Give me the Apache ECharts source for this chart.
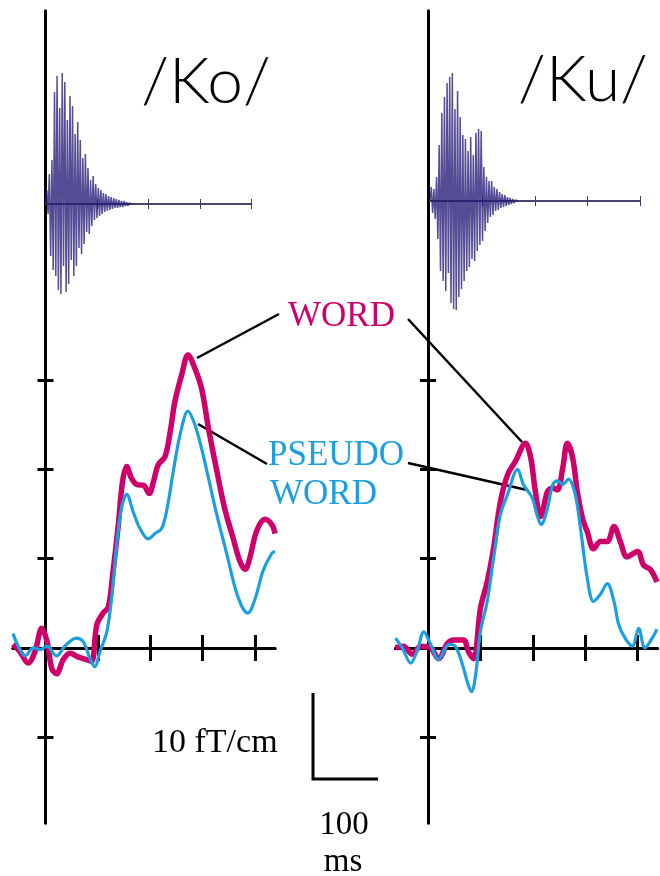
<!DOCTYPE html>
<html>
<head>
<meta charset="utf-8">
<script src="https://cdn.jsdelivr.net/npm/echarts@6/dist/echarts.min.js"></script>
<style>
html,body{margin:0;padding:0;background:#fff;}
#chart{width:660px;height:876px;}
</style>
</head>
<body>
<div id="chart"></div>
<script>
// ---- data (time in ms, MEG field in fT/cm) ----
const koWordT = [-62,-49,-33,-20,-7,3,12,21,34,47,62,78,88,98,110,120,129,139,147,155,164,174,187,198,206,215,228,238,247,260,272,285,298,311,327,342,358,371,381,390,403,419,432,438];
const koWordV = [0.4,-0.4,-1.7,-0.4,2.2,0.7,-2.3,-2.9,-1.3,-0.6,-1.0,-1.3,-1.5,2.6,3.9,4.6,8.6,13.8,18.6,20.3,19.0,18.3,18.2,17.3,18.6,20.5,21.4,24.2,27.6,30.6,32.8,31.3,29.0,24.6,19.8,15.6,12.3,9.7,8.8,10.1,13.1,14.4,13.8,12.8];
const koPseudoT = [-62,-52,-39,-23,-10,3,21,37,59,72,85,94,104,117,127,136,145,155,167,180,196,209,222,232,244,257,272,285,298,311,327,346,362,375,386,400,415,432,438];
const koPseudoV = [1.6,0.2,-0.9,0,-0.2,0.2,-0.9,0.2,1.1,0.7,-1.2,-2.1,-0.4,1.8,6.0,11.6,15.6,17.2,15.3,13.4,12.2,12.8,13.4,15.6,19.8,23.9,26.5,25.0,22.3,19.0,14.9,10.5,6.7,4.6,3.9,5.5,8.6,10.6,10.8];
const kuWordT = [-62,-47,-30,-14,5,20,37,49,68,77,87,100,113,125,138,152,167,186,196,205,215,228,238,247,257,266,276,285,295,304,316,329,342,355,367,380,400,411,424,437];
const kuWordV = [0,0.2,-0.7,0.2,0,-1.2,0.5,0.9,0.9,-0.4,-1.2,4.4,7.4,11.1,16.3,19.4,20.9,22.9,21.3,17.5,14.7,17.5,17.9,17.7,20.1,22.9,21.3,17.5,14.5,13.0,11.1,11.9,11.9,13.6,11.9,10.2,10.8,9.3,8.8,7.4];
const kuPseudoT = [-62,-49,-33,-20,-8,5,20,40,52,66,75,83,91,100,113,125,138,152,171,182,199,208,216,228,238,247,257,268,281,291,304,316,329,342,355,364,377,390,402,414,427,437];
const kuPseudoV = [1.1,0,-1.7,-0.2,1.8,0.4,-1.3,0.4,0.2,-1.9,-3.8,-4.9,-3.0,1.8,5.2,10.0,14.9,17.2,20.0,18.3,16.8,14.9,13.8,15.6,18.3,18.7,18.3,18.9,17.2,13.4,7.8,5.2,6.0,7.2,5.2,2.6,1.0,0.2,2.2,0,1.0,2.1];

// speech waveforms: alternating peak amplitudes, one every waveStepMs
const waveStepMs = 2.5;
const koWaveAmp = [0,14,-10,30,-52,44,-66,112,-72,128,-86,96,-90,131,-62,122,-88,84,-80,108,-56,98,-72,70,-62,82,-44,64,-50,46,-40,50,-28,36,-30,24,-22,28,-16,20,-14,16,-12,14,-10,11,-8,10,-7,8,-6,7,-5,6,-4,5,-4,4,-3,3,-3,3,-2,2,-2,1,-1,0];
const kuWaveAmp = [0,14,-12,12,-18,24,-38,56,-70,88,-80,104,-90,118,-72,124,-102,128,-108,92,-109,110,-96,84,-88,66,-80,62,-70,50,-66,64,-58,46,-60,68,-50,72,-44,70,-40,34,-30,24,-22,20,-16,20,-14,14,-10,12,-9,9,-7,7,-6,6,-5,4,-4,3,-3,2,-2,1,-1,0];

// ticks
const timeTicks = [100,200,300,400];
const fieldTicks = [-10,10,20,30];

const titles = ['/Ko/','/Ku/'];
const labelWord = 'WORD';
const labelPseudo = ['PSEUDO','WORD'];
const scaleField = '10 fT/cm';
const scaleTime = ['100','ms'];

const WORD_COLOR = '#d0006a';
const PSEUDO_COLOR = '#1c9fe0';
const WAVE_COLOR = 'rgba(36,26,118,0.78)';

function pairs(t, v){ return t.map((x,i)=>[x, v[i]]); }
function wave(a){ return a.map((y,i)=>[i*waveStepMs, y]); }

const xMin = -62, xMax = 438, yMin = -19.6, yMax = 71.3;

function megX(pos, grid, zeroIdx){
  return {
    gridIndex: grid, type:'value', min:xMin, max:xMax, position: pos,
    axisLine:{show:true, onZero:true, onZeroAxisIndex: zeroIdx, lineStyle:{color:'#000', width:3}},
    axisTick:{show:true, customValues: timeTicks, length:13, lineStyle:{color:'#000', width:3}},
    axisLabel:{show:false}, splitLine:{show:false}
  };
}
function megY(pos, grid, zeroIdx){
  return {
    gridIndex: grid, type:'value', min:yMin, max:yMax, position: pos,
    axisLine:{show:true, onZero:true, onZeroAxisIndex: zeroIdx, lineStyle:{color:'#000', width:3}},
    axisTick:{show:true, customValues: fieldTicks, length:8, lineStyle:{color:'#000', width:3}},
    axisLabel:{show:false}, splitLine:{show:false}
  };
}
function waveX(pos, grid, zeroIdx){
  return {
    gridIndex: grid, type:'value', min:0, max:400, position: pos,
    axisLine:{show:true, onZero:true, onZeroAxisIndex: zeroIdx, lineStyle:{color:'#3d3b68', width:1.5}},
    axisTick:{show:true, customValues: timeTicks, length:5, lineStyle:{color:'#3d3b68', width:1}},
    axisLabel:{show:false}, splitLine:{show:false}
  };
}
function waveY(grid){
  return {
    gridIndex: grid, type:'value', min:-150, max:150, show:true,
    axisLine:{show:false}, axisTick:{show:false}, axisLabel:{show:false}, splitLine:{show:false}
  };
}

const serif = '"Liberation Serif", "Times New Roman", serif';

const option = {
  backgroundColor:'#fff',
  animation:false,
  grid:[
    {left:13, width:262, top:11, height:812},
    {left:395.5, width:262, top:11, height:812},
    {left:45.5, width:206, top:54, height:300},
    {left:430, width:210, top:51, height:300}
  ],
  xAxis:[
    megX('bottom',0,0), megX('top',0,0),
    megX('bottom',1,2), megX('top',1,2),
    waveX('bottom',2,4), waveX('top',2,4),
    waveX('bottom',3,5), waveX('top',3,5)
  ],
  yAxis:[
    megY('left',0,0), megY('right',0,0),
    megY('left',1,2), megY('right',1,2),
    waveY(2), waveY(3)
  ],
  series:[
    {type:'line', xAxisIndex:4, yAxisIndex:4, data:wave(koWaveAmp), showSymbol:false, lineStyle:{color:WAVE_COLOR, width:1.5, join:'bevel'}, z:1},
    {type:'line', xAxisIndex:6, yAxisIndex:5, data:wave(kuWaveAmp), showSymbol:false, lineStyle:{color:WAVE_COLOR, width:1.5, join:'bevel'}, z:1},
    {type:'line', name:'WORD', xAxisIndex:0, yAxisIndex:0, data:pairs(koWordT,koWordV), smooth:0.35, showSymbol:false, lineStyle:{color:WORD_COLOR, width:5.5}, z:3},
    {type:'line', name:'PSEUDO', xAxisIndex:0, yAxisIndex:0, data:pairs(koPseudoT,koPseudoV), smooth:0.35, showSymbol:false, lineStyle:{color:PSEUDO_COLOR, width:3.2}, z:4},
    {type:'line', name:'WORD', xAxisIndex:2, yAxisIndex:2, data:pairs(kuWordT,kuWordV), smooth:0.35, showSymbol:false, lineStyle:{color:WORD_COLOR, width:5.5}, z:3},
    {type:'line', name:'PSEUDO', xAxisIndex:2, yAxisIndex:2, data:pairs(kuPseudoT,kuPseudoV), smooth:0.35, showSymbol:false, lineStyle:{color:PSEUDO_COLOR, width:3.2}, z:4}
  ],
  graphic:[
    {type:'text', style:{text:titles[0], x:206, y:82, textAlign:'center', textVerticalAlign:'middle', font:'300 64px Lato, "Noto Sans", sans-serif', fill:'#000'}},
    {type:'text', style:{text:titles[1], x:583, y:80, textAlign:'center', textVerticalAlign:'middle', font:'300 64px Lato, "Noto Sans", sans-serif', fill:'#000'}},
    {type:'text', style:{text:labelWord, x:288, y:317, textAlign:'left', textVerticalAlign:'middle', font:'35px '+serif, fill:WORD_COLOR}},
    {type:'text', style:{text:labelPseudo[0], x:268, y:456, textAlign:'left', textVerticalAlign:'middle', font:'35px '+serif, fill:PSEUDO_COLOR}},
    {type:'text', style:{text:labelPseudo[1], x:270, y:495, textAlign:'left', textVerticalAlign:'middle', font:'35px '+serif, fill:PSEUDO_COLOR}},
    {type:'line', shape:{x1:279,y1:314,x2:197,y2:358}, style:{stroke:'#000', lineWidth:2.5}},
    {type:'line', shape:{x1:408,y1:319,x2:522,y2:442}, style:{stroke:'#000', lineWidth:2.5}},
    {type:'line', shape:{x1:267,y1:464,x2:198,y2:424}, style:{stroke:'#000', lineWidth:2.5}},
    {type:'line', shape:{x1:408,y1:463,x2:527,y2:490}, style:{stroke:'#000', lineWidth:2.5}},
    {type:'polyline', shape:{points:[[313,693],[313,779],[378,779]]}, style:{stroke:'#000', lineWidth:3, fill:null}},
    {type:'text', style:{text:scaleField, x:152, y:743, textAlign:'left', textVerticalAlign:'middle', font:'34px '+serif, fill:'#000'}},
    {type:'text', style:{text:scaleTime[0], x:344, y:825, textAlign:'center', textVerticalAlign:'middle', font:'33px '+serif, fill:'#000'}},
    {type:'text', style:{text:scaleTime[1], x:343, y:862, textAlign:'center', textVerticalAlign:'middle', font:'33px '+serif, fill:'#000'}}
  ]
};
const chart = echarts.init(document.getElementById('chart'));
chart.setOption(option);
</script>
</body>
</html>
